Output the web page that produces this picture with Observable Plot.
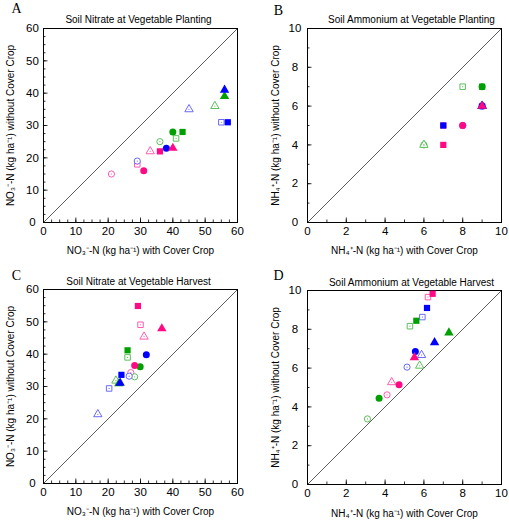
<!DOCTYPE html>
<html>
<head>
<meta charset="utf-8">
<script src="https://cdn.jsdelivr.net/npm/d3@7"></script>
<script src="https://cdn.jsdelivr.net/npm/@observablehq/plot@0.6"></script>
<style>
  html, body { margin: 0; padding: 0; background: white; }
  #wrap { position: relative; width: 509px; height: 521px; background: white; overflow: hidden; }
  .panel { position: absolute; }
</style>
</head>
<body>
<div id="wrap"></div>
<script>
// ---- categories (18 treatments: colour group × marker shape × filled/open) ----
const groupKey = ["pink","pink","pink","pink","pink","pink",
                  "green","green","green","green","green","green",
                  "blue","blue","blue","blue","blue","blue"];
const shapeKey = ["circle","circle","square","square","triangle","triangle",
                  "circle","circle","square","square","triangle","triangle",
                  "circle","circle","square","square","triangle","triangle"];
const filledKey = [true,false,true,false,true,false,
                   true,false,true,false,true,false,
                   true,false,true,false,true,false];

// ---- panel A: soil nitrate at planting ----
const aX = [31,21,36,29,40,33, 40,36,43,41,56,53, 38,29,57,55,56,45];
const aY = [16,15,22,18,23,22, 28,25,28,26,39,36, 23,19,31,31,41,35];
// ---- panel B: soil ammonium at planting ----
const bX = [8,8,7,7,9,9, 9,6,9,8,9,6, 9,8,7,9,9,9];
const bY = [5,5,4,5,6,6, 7,4,7,7,6,4, 6,5,5,6,6,6];
// ---- panel C: soil nitrate at harvest ----
const cX = [28.2,27.0, 29.2,30.0, 36.6,31.1, 29.9,28.2, 26.0,26.0, 23.3,22.4, 31.8,26.5, 24.1,20.3, 23.7,16.8];
const cY = [36.5,34.3, 54.9,49.1, 47.9,45.4, 36.1,33.0, 41.2,39.0, 30.9,31.8, 39.8,33.2, 33.6,29.4, 31.1,21.4];
// ---- panel D: soil ammonium at harvest ----
const dX = [4.72,4.10, 6.45,6.21, 5.51,4.34, 3.69,3.09, 5.61,5.28, 7.29,5.78, 5.56,5.13, 6.16,5.92, 6.55,5.88];
const dY = [5.14,4.62, 9.83,9.66, 6.55,5.27, 4.45,3.38, 8.44,8.16, 7.82,6.12, 6.86,6.05, 9.10,8.63, 7.32,6.67];

// ---- axes ----
const nitrateDomain = [0, 60];
const nitrateTicks = [0, 10, 20, 30, 40, 50, 60];
const nitrateMinorStep = 2.5;
const ammoniumDomain = [0, 10];
const ammoniumTicks = [0, 2, 4, 6, 8, 10];
const ammoniumMinorStep = 1;

// ---- texts ----
const panelLetters = ["A", "B", "C", "D"];
const panelTitles = ["Soil Nitrate at Vegetable Planting", "Soil Ammonium at Vegetable Planting",
                     "Soil Nitrate at Vegetable Harvest", "Soil Ammonium at Vegetable Harvest"];
const nitrateXLabel = "NO\u2083\u207B-N (kg ha\u207B\u00B9) with Cover Crop";
const nitrateYLabel = "NO\u2083\u207B-N (kg ha\u207B\u00B9) without Cover Crop";
const ammoniumXLabel = "NH\u2084\u207A-N (kg ha\u207B\u00B9) with Cover Crop";
const ammoniumYLabel = "NH\u2084\u207A-N (kg ha\u207B\u00B9) without Cover Crop";

// ---- styles ----
const filledColor = {pink: "#ff0a84", green: "#00a000", blue: "#0000ff"};
const openColor = {pink: "#ff5cb0", green: "#5cbf5c", blue: "#6a6af5"};

const symCircle = {draw(ctx, size) { const r = Math.sqrt(size / Math.PI); ctx.moveTo(r, 0); ctx.arc(0, 0, r, 0, 2 * Math.PI); }};
const symSquare = {draw(ctx, size) { const r = Math.sqrt(size / Math.PI) * 1.04; ctx.rect(-r, -r, 2 * r, 2 * r); }};
const symTriangle = {draw(ctx, size) { const r = Math.sqrt(size / Math.PI);
  ctx.moveTo(0, -1.08 * r); ctx.lineTo(1.12 * r, 0.86 * r); ctx.lineTo(-1.12 * r, 0.86 * r); ctx.closePath(); }};

const groupOrder = {green: 0, blue: 1, pink: 2};

function rows(xs, ys) {
  return xs.map((x, i) => ({
    x, y: ys[i], group: groupKey[i], shape: shapeKey[i], filled: filledKey[i], i,
    color: filledKey[i] ? filledColor[groupKey[i]] : openColor[groupKey[i]]
  }));
}

function panel({xs, ys, domain, ticks, minorStep, letter, title, xLabel, yLabel, g}) {
  const frameW = g.width - g.left - g.right;
  const frameH = g.height - g.top - g.bottom;
  const data = rows(xs, ys);
  const opens = data.filter(d => !d.filled);
  const filled = data.filter(d => d.filled)
    .sort((a, b) => (groupOrder[a.group] - groupOrder[b.group]) || (a.i - b.i));
  const minors = d3.range(domain[0], domain[1] + 1e-9, minorStep);
  const txt = {textAnchor: "middle", lineAnchor: "middle", fill: "black", text: d => d};
  return Plot.plot({
    width: g.width, height: g.height,
    marginLeft: g.left, marginRight: g.right, marginTop: g.top, marginBottom: g.bottom,
    x: {domain, axis: null},
    y: {domain, axis: null},
    symbol: {domain: ["circle", "square", "triangle"], range: [symCircle, symSquare, symTriangle]},
    color: {type: "identity"},
    style: {fontFamily: "'Liberation Sans', Arial, sans-serif", background: "white", overflow: "visible"},
    marks: [
      Plot.link([domain], {x1: d => d[0], y1: d => d[0], x2: d => d[1], y2: d => d[1], stroke: "#333", strokeWidth: 0.8}),
      Plot.ruleX(minors, {x: d => d, insetTop: frameH - 2.5, stroke: "black", strokeWidth: 0.8}),
      Plot.ruleX(ticks, {x: d => d, insetTop: frameH - 4.5, stroke: "black", strokeWidth: 0.8}),
      Plot.ruleY(minors, {y: d => d, insetRight: frameW - 2.5, stroke: "black", strokeWidth: 0.8}),
      Plot.ruleY(ticks, {y: d => d, insetRight: frameW - 4.5, stroke: "black", strokeWidth: 0.8}),
      Plot.frame({stroke: "black", strokeWidth: 1}),
      Plot.axisX(ticks, {tickSize: 0, tickPadding: 4, fontSize: 11.5, label: null}),
      Plot.axisY(ticks, {tickSize: 0, tickPadding: g.yPad, textAnchor: "middle", fontSize: 11.5, label: null}),
      // open markers
      Plot.dot(opens, {x: "x", y: "y", symbol: "shape", r: 3.1, fill: "white", stroke: "color", strokeWidth: 1}),
      Plot.dot(opens, {x: "x", y: "y", r: 0.6, fill: "color", stroke: null}),
      // filled markers
      Plot.dot(filled, {x: "x", y: "y", symbol: "shape", r: 3.5, fill: "color", stroke: null}),
      // texts
      Plot.text([title], {...txt, frameAnchor: "top", dx: g.titleDx, dy: g.titleDy, fontSize: 10}),
      Plot.text([letter], {...txt, frameAnchor: "top-left", dx: g.letterDx, dy: g.letterDy, fontSize: 14,
        fontFamily: "'Liberation Serif', 'Times New Roman', serif"}),
      Plot.text([xLabel], {...txt, frameAnchor: "bottom", dy: g.xLabDy, fontSize: 10}),
      Plot.text([yLabel], {...txt, frameAnchor: "left", dx: g.yLabDx, rotate: -90, fontSize: 10})
    ]
  });
}

const specs = [
  {xs: aX, ys: aY, domain: nitrateDomain, ticks: nitrateTicks, minorStep: nitrateMinorStep,
   letter: panelLetters[0], title: panelTitles[0], xLabel: nitrateXLabel, yLabel: nitrateYLabel,
   g: {x: 0, y: 0, width: 255, height: 260, left: 43, right: 18, top: 28, bottom: 38, yPad: 11,
       titleDx: -2, titleDy: -9, letterDx: -27, letterDy: -19.5, xLabDy: 28, yLabDx: -33}},
  {xs: bX, ys: bY, domain: ammoniumDomain, ticks: ammoniumTicks, minorStep: ammoniumMinorStep,
   letter: panelLetters[1], title: panelTitles[1], xLabel: ammoniumXLabel, yLabel: ammoniumYLabel,
   g: {x: 255, y: 0, width: 254, height: 260, left: 52, right: 8, top: 28, bottom: 38, yPad: 12.5,
       titleDx: 7, titleDy: -9, letterDx: -29, letterDy: -18, xLabDy: 28, yLabDx: -32}},
  {xs: cX, ys: cY, domain: nitrateDomain, ticks: nitrateTicks, minorStep: nitrateMinorStep,
   letter: panelLetters[2], title: panelTitles[2], xLabel: nitrateXLabel, yLabel: nitrateYLabel,
   g: {x: 0, y: 260, width: 255, height: 261, left: 43, right: 18, top: 29, bottom: 38, yPad: 11,
       titleDx: -2, titleDy: -7.5, letterDx: -27, letterDy: -14, xLabDy: 28, yLabDx: -33}},
  {xs: dX, ys: dY, domain: ammoniumDomain, ticks: ammoniumTicks, minorStep: ammoniumMinorStep,
   letter: panelLetters[3], title: panelTitles[3], xLabel: ammoniumXLabel, yLabel: ammoniumYLabel,
   g: {x: 255, y: 260, width: 254, height: 261, left: 52, right: 8, top: 30, bottom: 37, yPad: 12.5,
       titleDx: 7, titleDy: -7.7, letterDx: -29, letterDy: -15, xLabDy: 29, yLabDx: -32}}
];

const wrap = document.getElementById("wrap");
for (const s of specs) {
  const div = document.createElement("div");
  div.className = "panel";
  div.style.left = s.g.x + "px";
  div.style.top = s.g.y + "px";
  div.appendChild(panel(s));
  wrap.appendChild(div);
}
</script>
</body>
</html>
